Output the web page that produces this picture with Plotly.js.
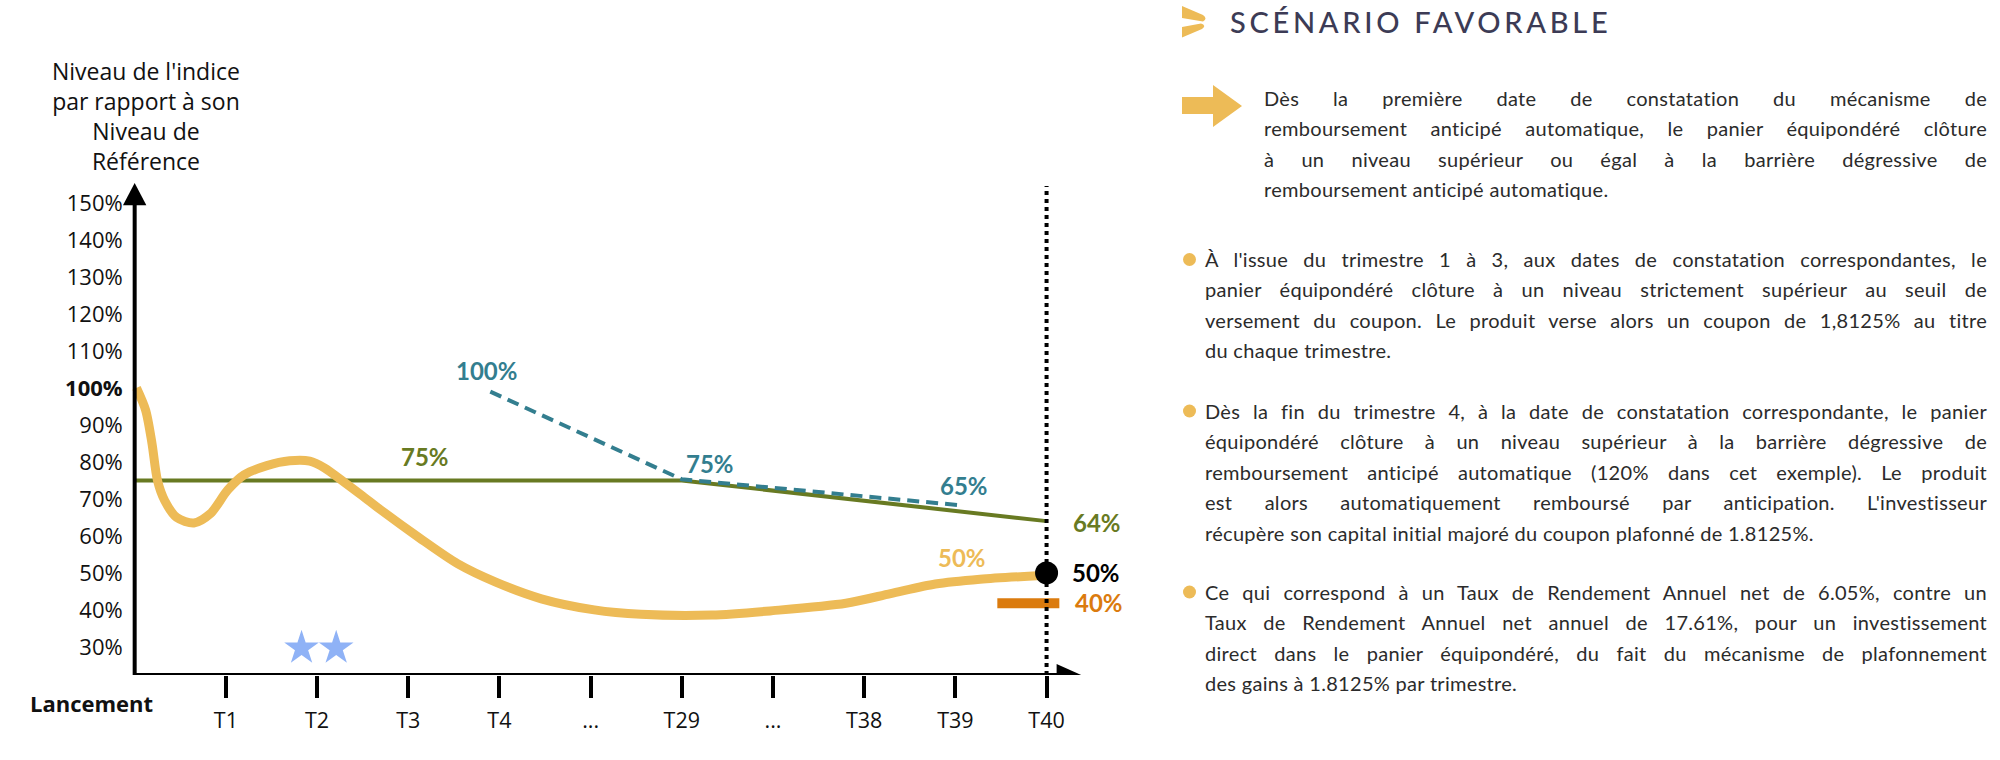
<!DOCTYPE html>
<html><head><meta charset="utf-8">
<script src="https://cdn.plot.ly/plotly-3.0.1.min.js"></script>
<style>
body{margin:0;background:#fff;}
#wrap{position:relative;width:2000px;height:760px;overflow:hidden;background:#fff;}
#chart{position:absolute;left:0;top:0;width:2000px;height:760px;}
#icons{position:absolute;left:0;top:0;pointer-events:none;}
.hdr{position:absolute;left:1230px;top:2px;height:40px;line-height:40px;font-family:Lato,sans-serif;font-size:29px;font-weight:500;color:#3c3b55;letter-spacing:3.7px;white-space:nowrap;}
.para{position:absolute;font-family:Lato,sans-serif;color:#2b2b2b;font-size:20px;line-height:30.6px;font-weight:400;}
.ln{text-align:justify;text-align-last:justify;}
.ln.last{text-align:left;text-align-last:left;}
</style></head>
<body>
<div id="wrap">
<div id="chart"></div>
<svg id="icons" width="2000" height="760">
  <path d="M1182,6 L1203,15 Q1208,18.5 1203,21.5 L1182,18 Z" fill="#edbb57"/>
  <path d="M1182,27 L1201,23.5 Q1207,25.5 1202,29 L1182,37.5 Z" fill="#edbb57"/>
  <path d="M1182,97 L1213,97 L1213,85 L1242,106 L1213,127 L1213,114 L1182,114 Z" fill="#edbb57"/>
  <circle cx="1189.5" cy="259.5" r="6.5" fill="#edbb57"/>
  <circle cx="1189.5" cy="411" r="6.5" fill="#edbb57"/>
  <circle cx="1189.5" cy="592" r="6.5" fill="#edbb57"/>
</svg>
<div class="hdr">SCÉNARIO FAVORABLE</div>
<div class="para" style="left:1264px;top:82.7px;width:723px;">
  <div class="ln">Dès la première date de constatation du mécanisme de</div>
  <div class="ln">remboursement anticipé automatique, le panier équipondéré clôture</div>
  <div class="ln">à un niveau supérieur ou égal à la barrière dégressive de</div>
  <div class="ln last">remboursement anticipé automatique.</div>
</div>
<div class="para" style="left:1205px;top:243.7px;width:782px;">
  <div class="ln">À l'issue du trimestre 1 à 3, aux dates de constatation correspondantes, le</div>
  <div class="ln">panier équipondéré clôture à un niveau strictement supérieur au seuil de</div>
  <div class="ln">versement du coupon. Le produit verse alors un coupon de 1,8125% au titre</div>
  <div class="ln last">du chaque trimestre.</div>
</div>
<div class="para" style="left:1205px;top:395.7px;width:782px;">
  <div class="ln">Dès la fin du trimestre 4, à la date de constatation correspondante, le panier</div>
  <div class="ln">équipondéré clôture à un niveau supérieur à la barrière dégressive de</div>
  <div class="ln">remboursement anticipé automatique (120% dans cet exemple). Le produit</div>
  <div class="ln">est alors automatiquement remboursé par anticipation. L'investisseur</div>
  <div class="ln last">récupère son capital initial majoré du coupon plafonné de 1.8125%.</div>
</div>
<div class="para" style="left:1205px;top:576.7px;width:782px;">
  <div class="ln">Ce qui correspond à un Taux de Rendement Annuel net de 6.05%, contre un</div>
  <div class="ln">Taux de Rendement Annuel net annuel de 17.61%, pour un investissement</div>
  <div class="ln">direct dans le panier équipondéré, du fait du mécanisme de plafonnement</div>
  <div class="ln last">des gains à 1.8125% par trimestre.</div>
</div>
</div>
<script>
// ---------- data ----------
const tickPos = [1,2,3,4,5,6,7,8,9,10];
const tickLabels = ["T1","T2","T3","T4","...","T29","...","T38","T39","T40"];
const yTickVals = [30,40,50,60,70,80,90,100,110,120,130,140,150];
const yTickText = ["30%","40%","50%","60%","70%","80%","90%","<b>100%</b>","110%","120%","130%","140%","150%"];

const indexX = [0.02,0.12,0.19,0.25,0.33,0.46,0.65,0.83,1.02,1.2,1.45,1.7,1.92,2.08,2.3,2.5,2.7,3.12,3.54,3.96,4.46,5.04,5.55,6.33,7.0,7.8,8.29,8.78,9.27,9.95];
const indexY = [100,94,85,75,69.5,65,63.5,66,72.4,76.5,79,80.3,80.2,78.4,74.5,70.8,67,59.5,52.5,47.5,43,40,38.8,38.6,39.8,41.8,44.4,47,48.3,49.3];

const barrierX = [0,6,10];
const barrierY = [75,75,64];

const autocallX = [3.9,6,9.05];
const autocallY = [99,75.3,68.3];

const finalX = [10];
const finalY = [50];

const protectX = [9.46,10.14];
const protectY = [41.8,41.8];

const starX = [1.83,2.21];
const starY = [29.7,29.7];

const maturityX = 10;

const labelText = ["75%","100%","75%","65%","50%","64%","50%","40%"];

// ---------- geometry ----------
const W = 2000, H = 760;
const X0PX = 135, PXX = 91.2;     // pixel of x=0, px per x unit
const Y100PX = 388, PXY = 3.7;    // pixel of y=100, px per y unit
const xr = [-1.4, 11.2], yr = [22.4, 160];
const ml = X0PX + xr[0]*PXX;
const pw = (xr[1]-xr[0])*PXX;
const mr = W - ml - pw;
const mt = Y100PX - (yr[1]-100)*PXY;
const pb = Y100PX + (100-yr[0])*PXY;
const mb = H - pb;
const ph = pb - mt;
const px2x = p => (p - ml)/pw;
const py2y = p => (pb - p)/ph;

const C = {yellow:'#edbb57', green:'#687a22', teal:'#337e8f', orange:'#db7b0e', star:'#8fb2f6'};

const traces = [
  {x:barrierX, y:barrierY, mode:'lines', line:{color:C.green, width:4}},
  {x:autocallX, y:autocallY, mode:'lines', line:{color:C.teal, width:4, dash:'12px,7px'}},
  {x:indexX, y:indexY, mode:'lines', line:{color:C.yellow, width:9, shape:'spline', smoothing:0.8}},
  {x:protectX, y:protectY, mode:'lines', line:{color:C.orange, width:10}},
  {x:[maturityX, maturityX], y:[yr[0], 154.6], mode:'lines', line:{color:'#000', width:4, dash:'4px,4px'}},
  {x:starX, y:starY, mode:'markers', marker:{symbol:'star', size:26, color:C.star, line:{width:0}}},
  {x:finalX, y:finalY, mode:'markers', marker:{symbol:'circle', size:23, color:'#000'}}
].map(t => Object.assign(t, {cliponaxis:false, hoverinfo:'skip', showlegend:false, type:'scatter'}));

const lblFont = c => ({family:'Lato, sans-serif', size:24, color:c, weight:700});
const lbl = (x, y, i, c) => ({x:x, y:y, xref:'x', yref:'y', text:labelText[i], showarrow:false, xanchor:'center', yanchor:'middle', font:lblFont(c)});

const annotations = [
  lbl(3.18, 81.4, 0, C.green),
  lbl(3.86, 104.6, 1, C.teal),
  lbl(6.31, 79.7, 2, C.teal),
  lbl(9.09, 73.5, 3, C.teal),
  lbl(9.07, 54.3, 4, C.yellow),
  lbl(10.55, 63.5, 5, C.green),
  lbl(10.54, 50, 6, '#000'),
  lbl(10.57, 41.9, 7, C.orange),
  {xref:'paper', yref:'paper', x:px2x(146), y:py2y(116), xanchor:'center', yanchor:'middle', showarrow:false,
   text:"Niveau de l'indice<br>par rapport à son<br>Niveau de<br>Référence", align:'center',
   font:{family:'Open Sans, sans-serif', size:23, color:'#111'}},
  {xref:'paper', yref:'paper', x:px2x(92), y:py2y(703), xanchor:'center', yanchor:'middle', showarrow:false,
   text:'<b>Lancement</b>', font:{family:'Open Sans, sans-serif', size:22, color:'#111'}}
];

const shapes = [
  {type:'line', xref:'x', yref:'y', x0:0, x1:0, y0:yr[0], y1:149.6, line:{color:'#000', width:4}},
  {type:'path', xref:'x', yref:'y', path:'M -0.128,149.4 L 0.128,149.4 L 0,155.4 Z', fillcolor:'#000', line:{width:0}},
  {type:'line', xref:'x', yref:'y', x0:0, x1:10.15, y0:yr[0], y1:yr[0], line:{color:'#000', width:4}},
  {type:'path', xref:'x', yref:'y', path:'M 10.11,'+(yr[0]-2.97)+' L 10.11,'+(yr[0]+2.97)+' L 10.38,'+yr[0]+' Z', fillcolor:'#000', line:{width:0}}
];

const layout = {
  width:W, height:H, paper_bgcolor:'#fff', plot_bgcolor:'rgba(0,0,0,0)',
  margin:{l:ml, r:mr, t:mt, b:mb, pad:0},
  xaxis:{range:xr, tickvals:tickPos, ticktext:tickLabels, ticks:'outside', ticklen:22, tickwidth:4, tickcolor:'#000',
         showline:false, zeroline:false, showgrid:false, ticklabelstandoff:4,
         tickfont:{family:'Open Sans, sans-serif', size:21.5, color:'#111'}, fixedrange:true},
  yaxis:{range:yr, tickvals:yTickVals, ticktext:yTickText, ticks:'', showline:false, zeroline:false, showgrid:false,
         anchor:'free', position:(X0PX-ml)/pw, ticklabelstandoff:12,
         tickfont:{family:'Open Sans, sans-serif', size:22, color:'#111'}, fixedrange:true},
  annotations:annotations, shapes:shapes, showlegend:false
};

Plotly.newPlot('chart', traces, layout, {displayModeBar:false, staticPlot:true});

// keep every justified line on one line
document.querySelectorAll('.ln').forEach(el => {
  let ls = 0.3;
  el.style.letterSpacing = ls + 'px';
  while (el.scrollHeight > 34 && ls > -1.5) { ls -= 0.1; el.style.letterSpacing = ls.toFixed(2) + 'px'; }
});
</script>
</body></html>
